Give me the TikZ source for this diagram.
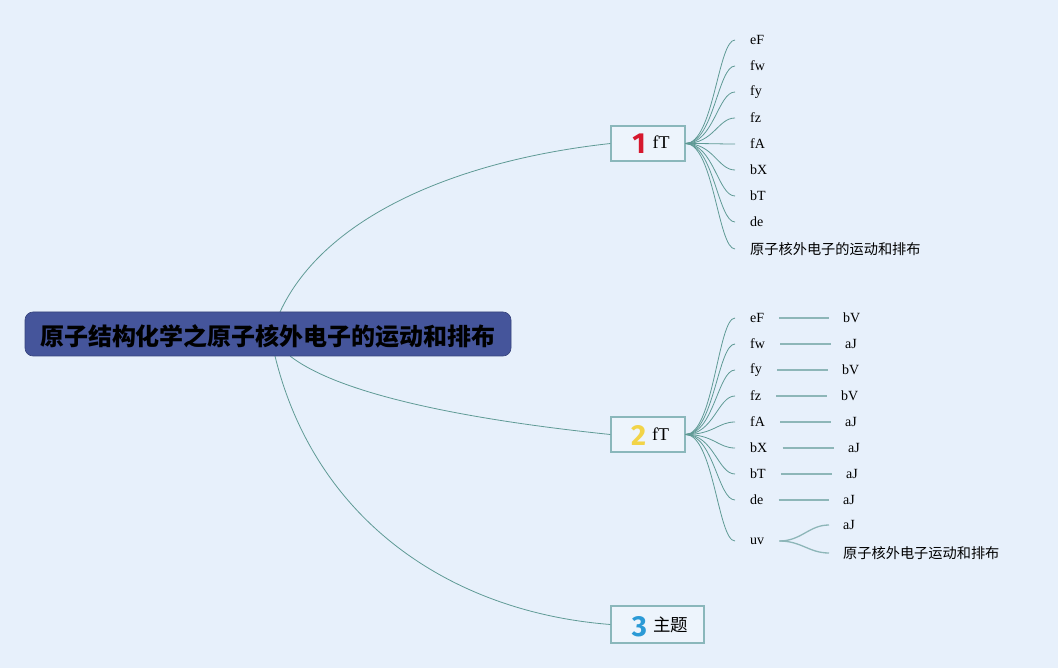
\documentclass[tikz,border=0pt]{standalone}
\usepackage{fontspec}
\setmainfont{Liberation Serif}
\newfontfamily\cjk{Noto Sans CJK SC}
\newfontfamily\numfont{Fira Sans}
\usetikzlibrary{calc}
\definecolor{bgc}{HTML}{E7F0FB}
\definecolor{rootc}{HTML}{45559B}
\definecolor{linec}{HTML}{5F9A95}
\definecolor{line2c}{HTML}{8DB6B8}
\definecolor{boxc}{HTML}{8AB7BB}
\definecolor{boxfill}{HTML}{EDF4FC}
\definecolor{numred}{HTML}{D6182E}
\definecolor{numyel}{HTML}{F2D448}
\definecolor{numblue}{HTML}{2B9AD6}
\newcommand{\topicnum}[2]{\raisebox{-5pt}{\numfont\bfseries\fontsize{29}{29}\selectfont\color{#1}#2}}
\tikzset{
  rootbox/.style={draw=rootc!80!black, line width=0.6pt, fill=rootc, rounded corners=8pt, minimum width=486pt, minimum height=44pt, inner sep=0pt},
  roottext/.style={inner sep=0pt, font=\cjk\bfseries\fontsize{24}{26}\selectfont, text=black},
  topicbox/.style={draw=boxc, line width=1.2pt, fill=boxfill, minimum height=35pt, inner sep=0pt},
  topictext/.style={anchor=base, inner sep=0pt, font=\fontsize{18}{20}\selectfont},
  leaf/.style={anchor=west, inner sep=0pt, font=\fontsize{14}{16}\selectfont},
  cjkleaf/.style={anchor=west, inner sep=0pt, font=\cjk\fontsize{14.2}{16}\selectfont},
  mainlink/.style={draw=linec, line width=0.8pt},
  sublink/.style={draw=linec, line width=0.8pt},
  flatlink/.style={draw=line2c, line width=1.3pt},
}
\begin{document}
\begin{tikzpicture}[x=1pt,y=-1pt]
\fill[bgc] (0,0) rectangle (1058,668);
\useasboundingbox (0,0) rectangle (1058,668);

\coordinate (r1) at (280,312);
\coordinate (r2) at (290,356);
\coordinate (r3) at (275,356);

\node[topicbox, minimum width=74pt] (t1) at (648,143.5) {};
\node[topictext] (t1x) at (651,148.5) {\topicnum{numred}{1}\hspace{7pt}fT};
\node[topicbox, minimum width=74pt] (t2) at (648,434.5) {};
\node[topictext] (t2x) at (650,440.5) {\topicnum{numyel}{2}\hspace{6pt}fT};
\node[topicbox, minimum width=93pt, minimum height=37pt] (t3) at (657.5,624.5) {};
\node[topictext] (t3x) at (660,631.5) {\topicnum{numblue}{3}\hspace{6pt}{\cjk\fontsize{17.5}{19}\selectfont 主题}};

\draw[mainlink] (r1) .. controls (325,215) and (460,160) .. (t1.west);
\draw[mainlink] (r2) .. controls (340,395) and (470,420) .. (t2.west);
\draw[mainlink] (r3) .. controls (315,520) and (450,612) .. (t3.west);

\node[rootbox] (root) at (268,334) {};
\node[roottext] (roottx) at (268,336.5) {原子结构化学之原子核外电子的运动和排布};

% branch 1 leaves
\node[leaf] (a1) at (750,40) {eF};
\node[leaf] (a2) at (750,66) {fw};
\node[leaf] (a3) at (750,92) {fy};
\node[leaf] (a4) at (750,118) {fz};
\node[leaf] (a5) at (750,144) {fA};
\node[leaf] (a6) at (750,170) {bX};
\node[leaf] (a7) at (750,196) {bT};
\node[leaf] (a8) at (750,222) {de};
\node[cjkleaf] (a9) at (750,249) {原子核外电子的运动和排布};
\foreach \i in {1,...,9}{
  \draw[sublink] (t1.east) .. controls ($(t1.east)+(28,0)$) and ($(a\i.west)+(-32,0)$) .. ($(a\i.west)+(-15,0)$);
}

% branch 2 leaves
\node[leaf] (b1) at (750,318) {eF};
\node[leaf] (b2) at (750,344) {fw};
\node[leaf] (b3) at (750,370) {fy};
\node[leaf] (b4) at (750,396) {fz};
\node[leaf] (b5) at (750,422) {fA};
\node[leaf] (b6) at (750,448) {bX};
\node[leaf] (b7) at (750,474) {bT};
\node[leaf] (b8) at (750,500) {de};
\node[leaf] (b9) at (750,541) {uv};
\foreach \i in {1,...,9}{
  \draw[sublink] (t2.east) .. controls ($(t2.east)+(28,0)$) and ($(b\i.west)+(-32,0)$) .. ($(b\i.west)+(-15,0)$);
}

\node[leaf] (c1) at (843,318) {bV};
\node[leaf] (c2) at (845,344) {aJ};
\node[leaf] (c3) at (842,370) {bV};
\node[leaf] (c4) at (841,396) {bV};
\node[leaf] (c5) at (845,422) {aJ};
\node[leaf] (c6) at (848,448) {aJ};
\node[leaf] (c7) at (846,474) {aJ};
\node[leaf] (c8) at (843,500) {aJ};
\foreach \i in {1,...,8}{
  \draw[flatlink] ($(b\i.east)+(15,0)$) -- ($(c\i.west)+(-14,0)$);
}

\node[leaf] (d1) at (843,525) {aJ};
\node[cjkleaf] (d2) at (843,553) {原子核外电子运动和排布};
\coordinate (uvs) at ($(b9.east)+(15,0)$);
\draw[flatlink] (uvs) .. controls ($(uvs)+(22,0)$) and ($(d1.west)+(-34,0)$) .. ($(d1.west)+(-14,0)$);
\draw[flatlink] (uvs) .. controls ($(uvs)+(22,0)$) and ($(d2.west)+(-34,0)$) .. ($(d2.west)+(-14,0)$);
\end{tikzpicture}
\end{document}
